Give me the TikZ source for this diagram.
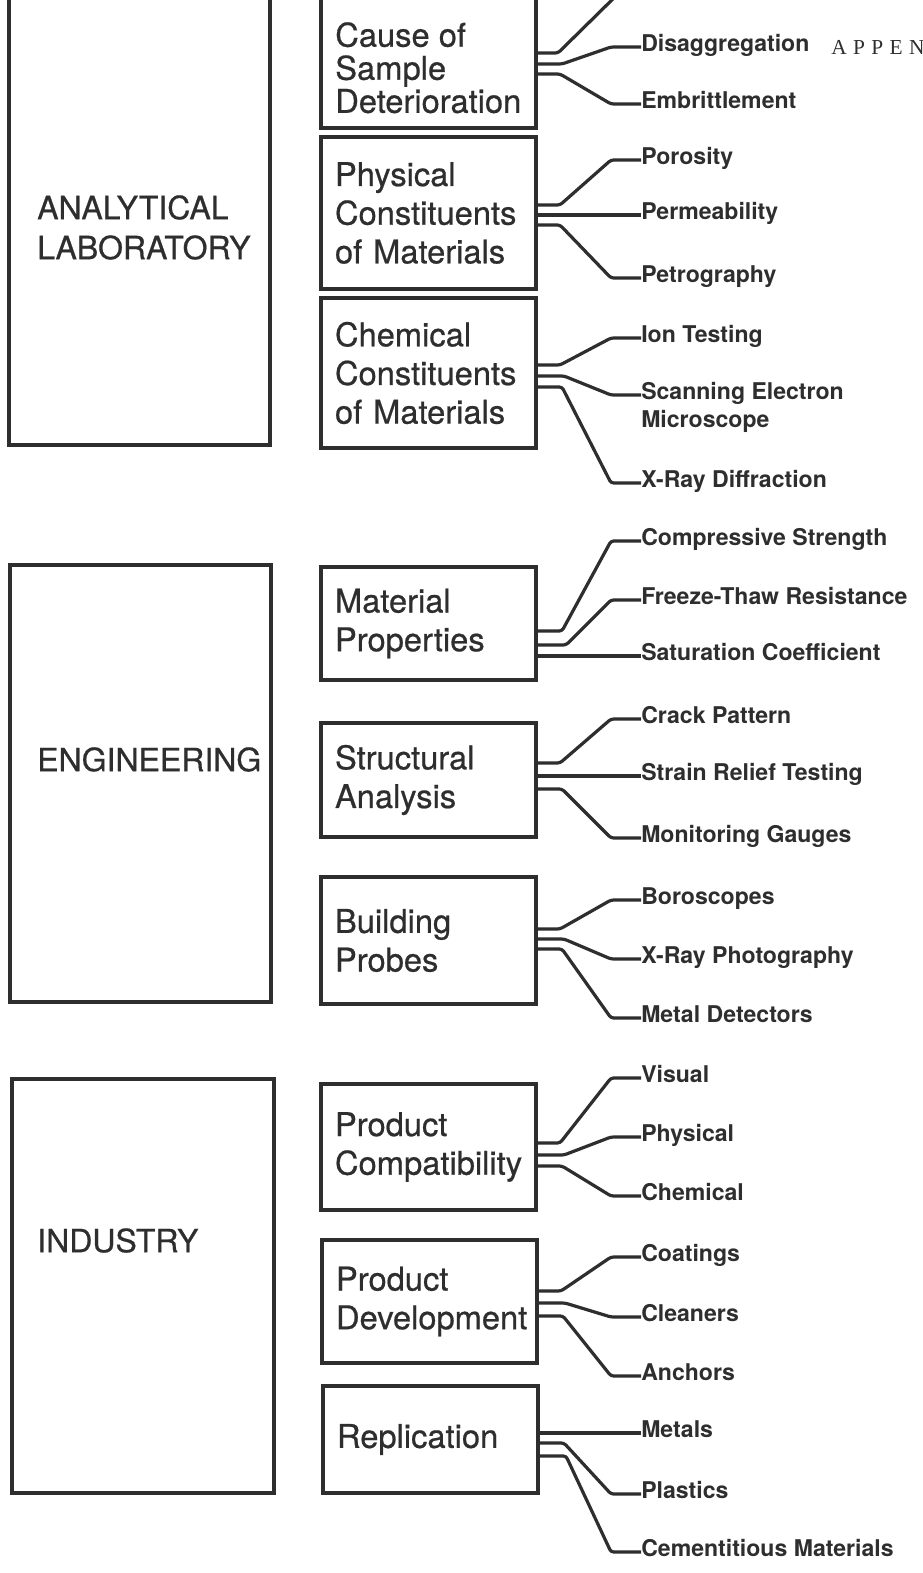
\documentclass[tikz,border=0pt]{standalone}
\usepackage{fontspec}
\setmainfont{TeX Gyre Heros}
\newfontfamily\boxfont{TeX Gyre Heros}[FakeBold=0.6]
\newfontfamily\appfont{Liberation Serif}[LetterSpace=30]
\definecolor{ink}{HTML}{2E2E2E}

% connector: stub out of a box, slanted run, short lead into the label
\newcommand\fork[4]{%
  \draw[link] (#1.east |- 0,#2) -- ++(#4,0) -- (611,0 |- #3.west) -- (#3.west);}
% connector: straight line from a box to a label
\newcommand\straight[2]{%
  \draw[link] (#1.east |- #2.west) -- (#2.west);}

\begin{document}
\begin{tikzpicture}[x=0.75pt, y=-0.75pt,
  frame/.style={draw=ink, line width=2.4pt, inner sep=0pt, outer sep=0pt},
  bigtext/.style={font=\boxfont\fontsize{24}{30}\selectfont, text=ink, inner sep=0pt,
    align=left, anchor=north west},
  subbox/.style={frame, font=\boxfont\fontsize{24.5}{29}\selectfont, text=ink,
    align=left, text width={187*0.75pt}, minimum width={215*0.75pt}},
  lab/.style={font=\fontsize{17.3}{21}\bfseries\selectfont, text=ink, inner sep=0pt,
    text height=1.37ex, text depth=0pt, anchor=west},
  link/.style={draw=ink, line width=2.4pt, rounded corners=2pt, line join=round}
]
\useasboundingbox (0,0) rectangle (923,1573);
\fill[white] (0,0) rectangle (923,1573);
\clip (0,0) rectangle (923,1573);

% ---- main fields ----
\node[frame, minimum width={261*0.75pt}, minimum height={480*0.75pt}] (lab) at (139.5,205) {};
\node[bigtext] (labtext) at (37,195) {ANALYTICAL\\LABORATORY};
\node[frame, minimum width={261*0.75pt}, minimum height={437*0.75pt}] (eng) at (140.5,783.5) {};
\node[bigtext] (engtext) at (37,747) {ENGINEERING};
\node[frame, minimum width={262*0.75pt}, minimum height={414*0.75pt}] (ind) at (143,1286) {};
\node[bigtext] (indtext) at (37,1228) {INDUSTRY};

% ---- sub-fields ----
\node[frame, minimum width={215*0.75pt}, minimum height={163*0.75pt}] (cause) at (428.5,46.5) {};
\node[font=\boxfont\fontsize{24.5}{24.8}\selectfont, text=ink, inner sep=0pt, align=left, anchor=north west]
  (causetext) at (335,22) {Cause of\\Sample\\Deterioration};
\node[subbox, minimum height={152*0.75pt}] (phys) at (428.5,213) {Physical\\Constituents\\of Materials};
\node[subbox, minimum height={150*0.75pt}] (chem) at (428.5,373) {Chemical\\Constituents\\of Materials};
\node[subbox, minimum height={113*0.75pt}] (mat) at (428.5,623.5) {Material\\Properties};
\node[subbox, minimum height={114*0.75pt}] (struct) at (428.5,780) {Structural\\Analysis};
\node[subbox, minimum height={127*0.75pt}] (probe) at (428.5,940.5) {Building\\Probes};
\node[subbox, minimum height={126*0.75pt}] (compat) at (428.5,1147) {Product\\Compatibility};
\node[subbox, minimum height={123*0.75pt}] (dev) at (429.5,1301.5) {Product\\Development};
\node[subbox, minimum height={107*0.75pt}] (repl) at (430.5,1439.5) {Replication};

% ---- methods ----
\node[lab] (disag)  at (641,47)   {Disaggregation};
\node[lab] (embr)   at (641,104)  {Embrittlement};
\node[lab] (poro)   at (641,160)  {Porosity};
\node[lab] (perm)   at (641,215)  {Permeability};
\node[lab] (petro)  at (641,278)  {Petrography};
\node[lab] (ion)    at (641,338)  {Ion Testing};
\node[lab] (scan)   at (641,395)  {Scanning Electron};
\node[lab] (micro)  at (641,423)  {Microscope};
\node[lab] (xrd)    at (641,483)  {X-Ray Diffraction};
\node[lab] (comp)   at (641,541)  {Compressive Strength};
\node[lab] (freeze) at (641,600)  {Freeze-Thaw Resistance};
\node[lab] (sat)    at (641,656)  {Saturation Coefficient};
\node[lab] (crack)  at (641,719)  {Crack Pattern};
\node[lab] (strain) at (641,776)  {Strain Relief Testing};
\node[lab] (monit)  at (641,838)  {Monitoring Gauges};
\node[lab] (boro)   at (641,900)  {Boroscopes};
\node[lab] (xph)    at (641,959)  {X-Ray Photography};
\node[lab] (metal)  at (641,1018) {Metal Detectors};
\node[lab] (visual) at (641,1078) {Visual};
\node[lab] (phy)    at (641,1137) {Physical};
\node[lab] (chemi)  at (641,1196) {Chemical};
\node[lab] (coat)   at (641,1257) {Coatings};
\node[lab] (clean)  at (641,1317) {Cleaners};
\node[lab] (anch)   at (641,1376) {Anchors};
\node[lab] (metals) at (641,1433) {Metals};
\node[lab] (plast)  at (641,1494) {Plastics};
\node[lab] (cem)    at (641,1552) {Cementitious Materials};

\node[anchor=base west, inner sep=0pt, text=ink, font=\appfont\fontsize{16}{18}\selectfont]
  (appen) at (831,55) {APPEN};

% ---- connectors ----
\coordinate (causeup) at (622,-10);
\draw[link] (cause.east |- 0,53) -- ++(22,0) -- (causeup);
\fork{cause}{64}{disag}{26}
\fork{cause}{74}{embr}{24}

\fork{phys}{205}{poro}{24}
\straight{phys}{perm}
\fork{phys}{225}{petro}{24}

\fork{chem}{365}{ion}{24}
\fork{chem}{376}{scan}{28}
\fork{chem}{387}{xrd}{26}

\fork{mat}{631}{comp}{26}
\fork{mat}{645}{freeze}{30}
\straight{mat}{sat}

\fork{struct}{763}{crack}{24}
\straight{struct}{strain}
\fork{struct}{789}{monit}{26}

\fork{probe}{929}{boro}{24}
\fork{probe}{939}{xph}{28}
\fork{probe}{949}{metal}{26}

\fork{compat}{1143}{visual}{24}
\fork{compat}{1155}{phy}{28}
\fork{compat}{1166}{chemi}{26}

\fork{dev}{1291}{coat}{24}
\fork{dev}{1303}{clean}{28}
\fork{dev}{1316}{anch}{26}

\straight{repl}{metals}
\fork{repl}{1443}{plast}{26}
\fork{repl}{1456}{cem}{28}
\end{tikzpicture}
\end{document}
